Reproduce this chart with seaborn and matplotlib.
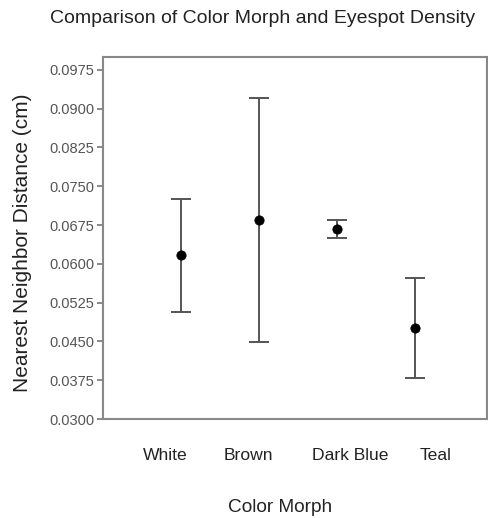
import matplotlib
matplotlib.use("Agg")
import matplotlib.pyplot as plt
import seaborn as sns
import pandas as pd
import numpy as np

categories = ["White", "Brown", "Dark Blue", "Teal"]
means = [0.0617, 0.0685, 0.0668, 0.0476]
upper = [0.0726, 0.0921, 0.0685, 0.0573]
lower = [0.0507, 0.0449, 0.0650, 0.0380]
yticks = [0.0300, 0.0375, 0.0450, 0.0525, 0.0600, 0.0675, 0.0750, 0.0825, 0.0900, 0.0975]

sns.set_style("white")
plt.rcParams['font.family'] = ['Liberation Sans', 'DejaVu Sans']

fig = plt.figure(figsize=(4.89, 5.18), dpi=100)
ax = fig.add_axes([0.2106, 0.1911, 0.7853, 0.6989])

df = pd.DataFrame({"cat": categories, "mean": means, "up": upper, "lo": lower})
xpos = np.arange(len(categories))
yerr = [df["mean"] - df["lo"], df["up"] - df["mean"]]
ax.errorbar(xpos, df["mean"], yerr=yerr, fmt="none", ecolor="#555555",
            elinewidth=1.4, capsize=7, capthick=1.4, zorder=2)
sns.scatterplot(x=xpos, y=df["mean"], ax=ax, color="black", s=45,
                edgecolor="black", zorder=3, legend=False)

ax.set_xlim(-1.0, 3.92)
ax.set_ylim(0.03, 0.1)
ax.set_yticks(yticks)
ax.set_yticklabels([f"{v:.4f}" for v in yticks], fontsize=10.5, color="#555555")
ax.set_xticks([-0.2, 0.86, 2.17, 3.26])
ax.set_xticklabels(categories, fontsize=12.6, color="#222222")
ax.tick_params(axis="x", length=0, pad=21)
ax.tick_params(axis="y", length=4, width=1.2, color="#777777", pad=2, left=True)
for s in ax.spines.values():
    s.set_visible(True)
    s.set_color("#888888")
    s.set_linewidth(1.5)
ax.set_xlabel("")
ax.set_ylabel("")

fig.text(0.536, 0.965, "Comparison of Color Morph and Eyespot Density",
         ha="center", va="center", fontsize=14, color="#222222")
fig.text(0.573, 0.021, "Color Morph", ha="center", va="center",
         fontsize=13.7, color="#222222")
fig.text(0.045, 0.531, "Nearest Neighbor Distance (cm)", ha="center",
         va="center", rotation=90, fontsize=15, color="#222222")

fig.savefig("out.png", dpi=100)
